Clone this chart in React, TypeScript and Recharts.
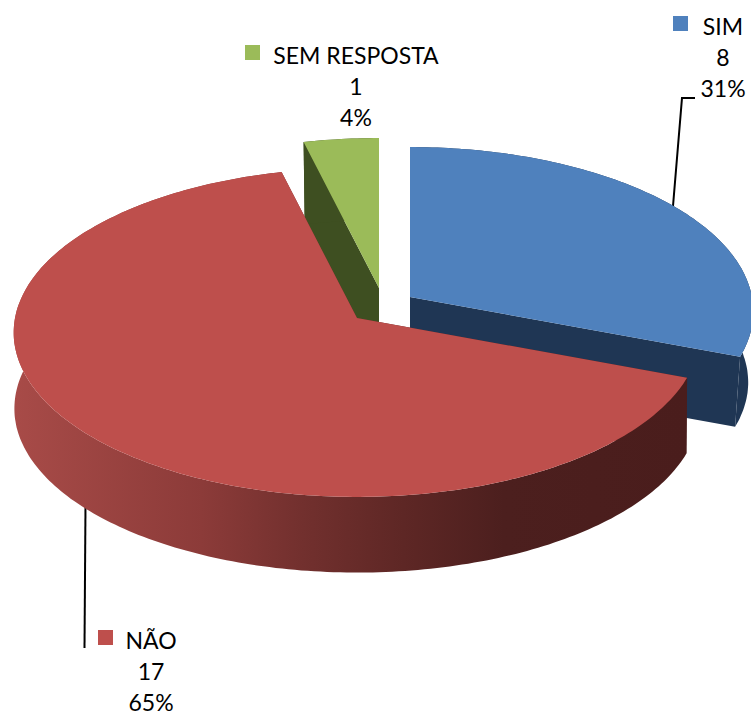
import React from 'react';
import { PieChart, Pie } from 'recharts';

const names = ['SIM', 'NÃO', 'SEM RESPOSTA'];
const counts = [8, 17, 1];
const swatchColors = ['#4F81BD', '#BE4F4C', '#9BBB59'];
const drawOrder = ['SIM', 'SEM RESPOSTA', 'NÃO'];

const table = names.map((name, i) => ({ name, value: counts[i], fill: swatchColors[i] }));

// explode offset, wall depth and wall colour per slice
const sliceLook: Record<string, { dx: number; dy: number; depth: number; shrink: number; wall: string }> = {
  SIM: { dx: 53, dy: -21, depth: 71, shrink: 0.985, wall: '#1F3654' },
  'NÃO': { dx: 0, dy: 0, depth: 76, shrink: 0.998, wall: 'url(#redWall)' },
  'SEM RESPOSTA': { dx: 22, dy: -30, depth: 80, shrink: 0.985, wall: '#3E4F21' },
};

// where each label block sits: text centre, first baseline, swatch left
const labelSpots: Record<string, { x: number; y: number; swatchX: number }> = {
  SIM: { x: 723, y: 35, swatchX: 673 },
  'NÃO': { x: 151, y: 649, swatchX: 98 },
  'SEM RESPOSTA': { x: 356, y: 64, swatchX: 245 },
};

const TILT = 0.477;
const PERSPECTIVE = 0.0881;

const Slice = (props: any) => {
  const { cx, cy, outerRadius, startAngle, endAngle, fill, name, percent, value } = props;
  const look = sliceLook[name];
  const ox = cx + look.dx;
  const oy = cy + look.dy;

  const project = (angle: number, bottom: boolean) => {
    const rad = ((90 - angle) * Math.PI) / 180;
    const w = 1 + PERSPECTIVE * Math.cos(rad);
    const x = (outerRadius * Math.sin(rad)) / w;
    const y = (-outerRadius * TILT * Math.cos(rad)) / w;
    return bottom
      ? [ox + x * look.shrink, oy + y * look.shrink + look.depth]
      : [ox + x, oy + y];
  };

  const arc: number[] = [];
  const steps = Math.ceil(Math.abs(startAngle - endAngle));
  for (let i = 0; i <= steps; i++) arc.push(startAngle + ((endAngle - startAngle) * i) / steps);

  const toPath = (pts: number[][]) =>
    'M' + pts.map((p) => `${p[0].toFixed(1)},${p[1].toFixed(1)}`).join('L') + 'Z';

  const topArc = arc.map((a) => project(a, false));
  const lowArc = arc.map((a) => project(a, true));
  const apexTop = [ox, oy];
  const apexLow = [ox, oy + look.depth];

  const spot = labelSpots[name];
  const textStyle = { fontFamily: 'Lato, Carlito, sans-serif', fontSize: 23, fill: '#000' };

  return (
    <g>
      <defs>
        <linearGradient id="redWall" gradientUnits="userSpaceOnUse" x1="13" y1="0" x2="686" y2="0">
          <stop offset="0%" stopColor="#A84B48" />
          <stop offset="28%" stopColor="#8C3B39" />
          <stop offset="43%" stopColor="#72302E" />
          <stop offset="58%" stopColor="#5E2725" />
          <stop offset="73%" stopColor="#4C1F1E" />
          <stop offset="100%" stopColor="#4A1D1C" />
        </linearGradient>
      </defs>
      <path d={toPath([apexTop, topArc[0], lowArc[0], apexLow])} fill={look.wall} />
      <path d={toPath([apexTop, topArc[topArc.length - 1], lowArc[lowArc.length - 1], apexLow])} fill={look.wall} />
      <path d={toPath([...topArc, ...[...lowArc].reverse()])} fill={look.wall} />
      <path d={toPath([apexTop, ...topArc])} fill={fill} />
      <rect x={spot.swatchX} y={spot.y - 19} width={15} height={15} fill={fill} />
      <text x={spot.x} y={spot.y} textAnchor="middle" style={textStyle}>{name}</text>
      <text x={spot.x} y={spot.y + 31} textAnchor="middle" style={textStyle}>{value}</text>
      <text x={spot.x} y={spot.y + 62} textAnchor="middle" style={textStyle}>{Math.round(percent * 100)}%</text>
    </g>
  );
};

const leaderSim = '673,206 682,98 695,98';
const leaderNao = '85.5,505 84.5,648';

const App = () => (
  <div style={{ position: 'absolute', left: 0, top: 0, width: 751, height: 715 }}>
    <PieChart width={751} height={715} margin={{ top: 0, right: 0, bottom: 0, left: 0 }}>
      {drawOrder.map((target) => (
        <Pie
          key={target}
          data={table}
          dataKey="value"
          nameKey="name"
          cx={357}
          cy={318}
          outerRadius={342}
          startAngle={90}
          endAngle={-270}
          stroke="none"
          isAnimationActive={false}
          shape={(props: any) => (props.name === target ? <Slice {...props} /> : <g />)}
        />
      ))}
      <polyline points={leaderSim} fill="none" stroke="#000" strokeWidth={2} />
      <polyline points={leaderNao} fill="none" stroke="#000" strokeWidth={2} />
    </PieChart>
  </div>
);

export default App;
